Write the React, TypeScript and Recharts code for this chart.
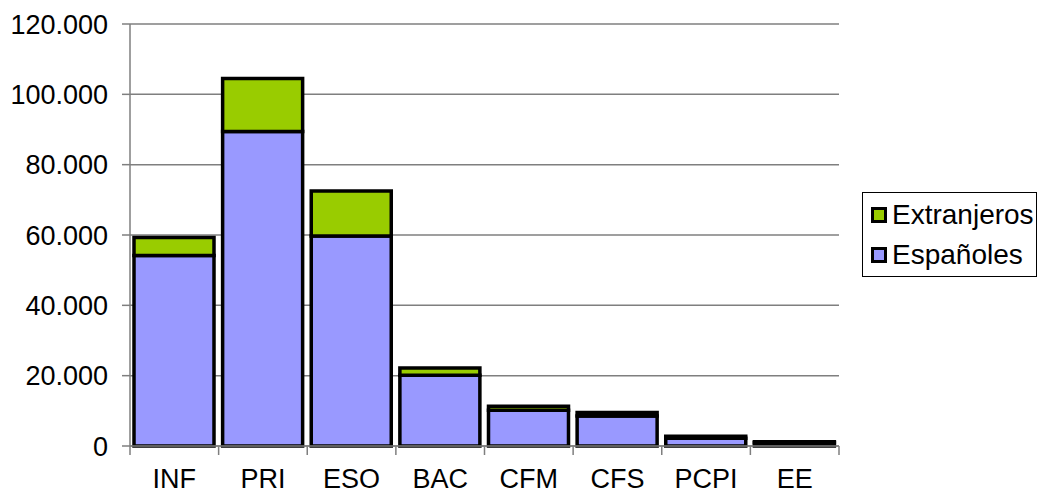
import { BarChart, Bar, XAxis, YAxis, CartesianGrid } from "recharts";

const CATEGORIES = ["INF", "PRI", "ESO", "BAC", "CFM", "CFS", "PCPI", "EE"];
const ESPANOLES = [54200, 89400, 59700, 20100, 10200, 8500, 2200, 900];
const EXTRANJEROS = [5100, 15100, 12800, 2100, 1100, 1000, 600, 300];
const Y_TICKS = [0, 20000, 40000, 60000, 80000, 100000, 120000];

const BLUE = "#9999ff";
const GREEN = "#99cc00";
const GRID = "#7f7f7f";
const FONT = "'Liberation Sans', Arial, sans-serif";

const data = CATEGORIES.map((c, i) => ({
  cat: c,
  esp: ESPANOLES[i],
  ext: EXTRANJEROS[i],
}));

const legendItems = [
  { label: "Extranjeros", color: GREEN },
  { label: "Españoles", color: BLUE },
];

const fmt = (v: number) => v.toLocaleString("de-DE");

function CatTick(props: any) {
  const { x, y, payload, index } = props;
  const half = payload?.offset ?? 44.3;
  return (
    <g>
      <line x1={x - half} x2={x - half} y1={y} y2={y + 9} stroke={GRID} strokeWidth={1.5} />
      {index === CATEGORIES.length - 1 && (
        <line x1={x + half} x2={x + half} y1={y} y2={y + 9} stroke={GRID} strokeWidth={1.5} />
      )}
      <text x={x} y={y + 42} textAnchor="middle" fontSize={27} fontFamily={FONT} fill="#000">
        {payload.value}
      </text>
    </g>
  );
}

function LegendBox() {
  return (
    <div
      style={{
        position: "absolute",
        left: 862,
        top: 192,
        border: "1px solid #000",
        width: 175,
        height: 85,
        boxSizing: "border-box",
        padding: "2px 0 0 8px",
        fontFamily: FONT,
        fontSize: 28,
        color: "#000",
      }}
    >
      {legendItems.map((it) => (
        <div key={it.label} style={{ display: "flex", alignItems: "center", height: 40 }}>
          <span
            style={{
              display: "inline-block",
              width: 16,
              height: 16,
              boxSizing: "border-box",
              border: "3px solid #000",
              background: it.color,
              marginRight: 5,
            }}
          />
          <span style={{ lineHeight: "40px" }}>{it.label}</span>
        </div>
      ))}
    </div>
  );
}

export default function App() {
  return (
    <div style={{ position: "absolute", left: 0, top: 0, width: 1040, height: 495, background: "#fff" }}>
      <BarChart
        width={1040}
        height={495}
        data={data}
        margin={{ top: 24, right: 201, bottom: 0, left: 0 }}
        barSize={80}
      >
        <CartesianGrid vertical={false} stroke={GRID} strokeWidth={1.5} />
        <XAxis
          dataKey="cat"
          height={49}
          tickSize={0}
          tickMargin={0}
          tickLine={false}
          axisLine={{ stroke: GRID, strokeWidth: 1.5 }}
          tick={<CatTick />}
          interval={0}
        />
        <YAxis
          width={130}
          domain={[0, 120000]}
          ticks={Y_TICKS}
          tickFormatter={fmt}
          tickSize={8}
          tickMargin={14}
          tickLine={{ stroke: GRID, strokeWidth: 1.5 }}
          axisLine={{ stroke: GRID, strokeWidth: 1.5 }}
          tick={{ fontSize: 27, fontFamily: FONT, fill: "#000" }}
          interval={0}
        />
        <Bar
          dataKey="esp"
          name="Españoles"
          stackId="a"
          fill={BLUE}
          stroke="#000"
          strokeWidth={3.5}
          isAnimationActive={false}
        />
        <Bar
          dataKey="ext"
          name="Extranjeros"
          stackId="a"
          fill={GREEN}
          stroke="#000"
          strokeWidth={3.5}
          isAnimationActive={false}
        />
      </BarChart>
      <LegendBox />
    </div>
  );
}
